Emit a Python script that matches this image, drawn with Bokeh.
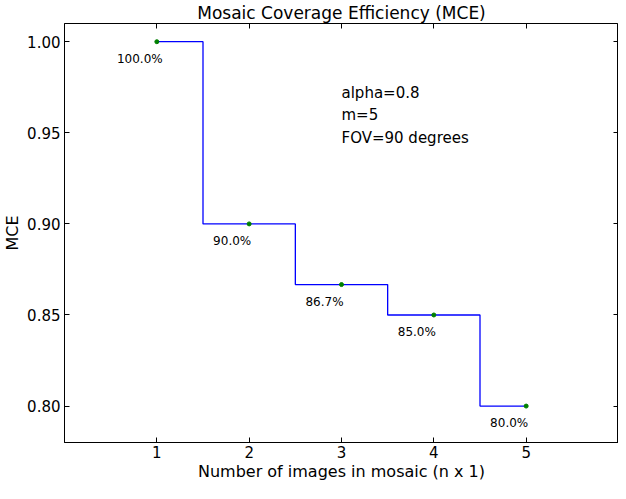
from bokeh.plotting import figure
from bokeh.models import LinearAxis, FixedTicker, NumeralTickFormatter, Range1d, Label, ColumnDataSource
from bokeh.embed import file_html
from bokeh.resources import INLINE
from bokeh.core.properties import value

# Data
n_images = [1, 2, 3, 4, 5]
mce = [1.0, 0.9, 0.8667, 0.85, 0.8]
pct_labels = ["100.0%", "90.0%", "86.7%", "85.0%", "80.0%"]
x_ticks = [1, 2, 3, 4, 5]
y_ticks = [0.80, 0.85, 0.90, 0.95, 1.00]
x_lim = (0, 6)
y_lim = (0.78, 1.01)
note = "alpha=0.8\nm=5\nFOV=90 degrees"

FONT = "DejaVu Sans"

p = figure(width=618, height=483, output_backend="svg", toolbar_location=None,
           x_range=Range1d(*x_lim), y_range=Range1d(*y_lim),
           title="Mosaic Coverage Efficiency (MCE)",
           x_axis_label="Number of images in mosaic (n x 1)", y_axis_label="MCE",
           min_border=0, min_border_left=0, min_border_right=0,
           min_border_top=0, min_border_bottom=0)

p.title.text_font = FONT
p.title.text_font_size = "17px"
p.title.text_font_style = "normal"
p.title.align = "center"
p.title.text_color = "black"
p.title.standoff = 1

p.xgrid.visible = False
p.ygrid.visible = False
p.outline_line_color = "black"
p.outline_line_width = 1

p.xaxis.ticker = FixedTicker(ticks=x_ticks)
p.yaxis.ticker = FixedTicker(ticks=y_ticks)
p.yaxis.formatter = NumeralTickFormatter(format="0.00")

for ax in (p.xaxis[0], p.yaxis[0]):
    ax.major_tick_in = 5
    ax.major_tick_out = 0
    ax.minor_tick_in = 0
    ax.minor_tick_out = 0
    ax.axis_line_color = "black"
    ax.major_tick_line_color = "black"
    ax.major_label_text_font = FONT
    ax.major_label_text_font_size = "15px"
    ax.major_label_text_color = "black"
    ax.axis_label_text_font = FONT
    ax.axis_label_text_font_size = "16px"
    ax.axis_label_text_font_style = "normal"
    ax.axis_label_text_color = "black"

p.xaxis.major_label_standoff = 3
p.xaxis.axis_label_standoff = 1
p.yaxis.major_label_standoff = 4
p.yaxis.axis_label_standoff = 2

# Mirror ticks on top and right
def mirror(ticks, loc):
    return LinearAxis(ticker=FixedTicker(ticks=ticks), major_tick_in=5, major_tick_out=0,
                      minor_tick_in=0, minor_tick_out=0, major_label_text_font_size="0px",
                      major_label_standoff=0, axis_label=None, axis_label_standoff=0,
                      major_label_overrides={t: "" for t in ticks},
                      axis_line_color="black", fixed_location=loc)

p.add_layout(mirror(x_ticks, y_lim[1]), "above")
p.add_layout(mirror(y_ticks, x_lim[1]), "right")

src = ColumnDataSource(dict(x=n_images, y=mce, lab=pct_labels))

p.step("x", "y", source=src, mode="center", line_color="#0000ff", line_width=1.3)
p.scatter("x", "y", source=src, size=4, color="#008000")
p.text("x", "y", text="lab", source=src, x_offset=-17, y_offset=17,
       text_font=value(FONT), text_font_size="12px", text_align="center",
       text_baseline="middle", text_color="black")

p.add_layout(Label(x=3, y=0.977, text=note, text_font=FONT, text_font_size="15px",
                   text_baseline="top", text_align="left", text_line_height=1.27,
                   text_color="black"))

open("out.html", "w").write(file_html(p, INLINE))
